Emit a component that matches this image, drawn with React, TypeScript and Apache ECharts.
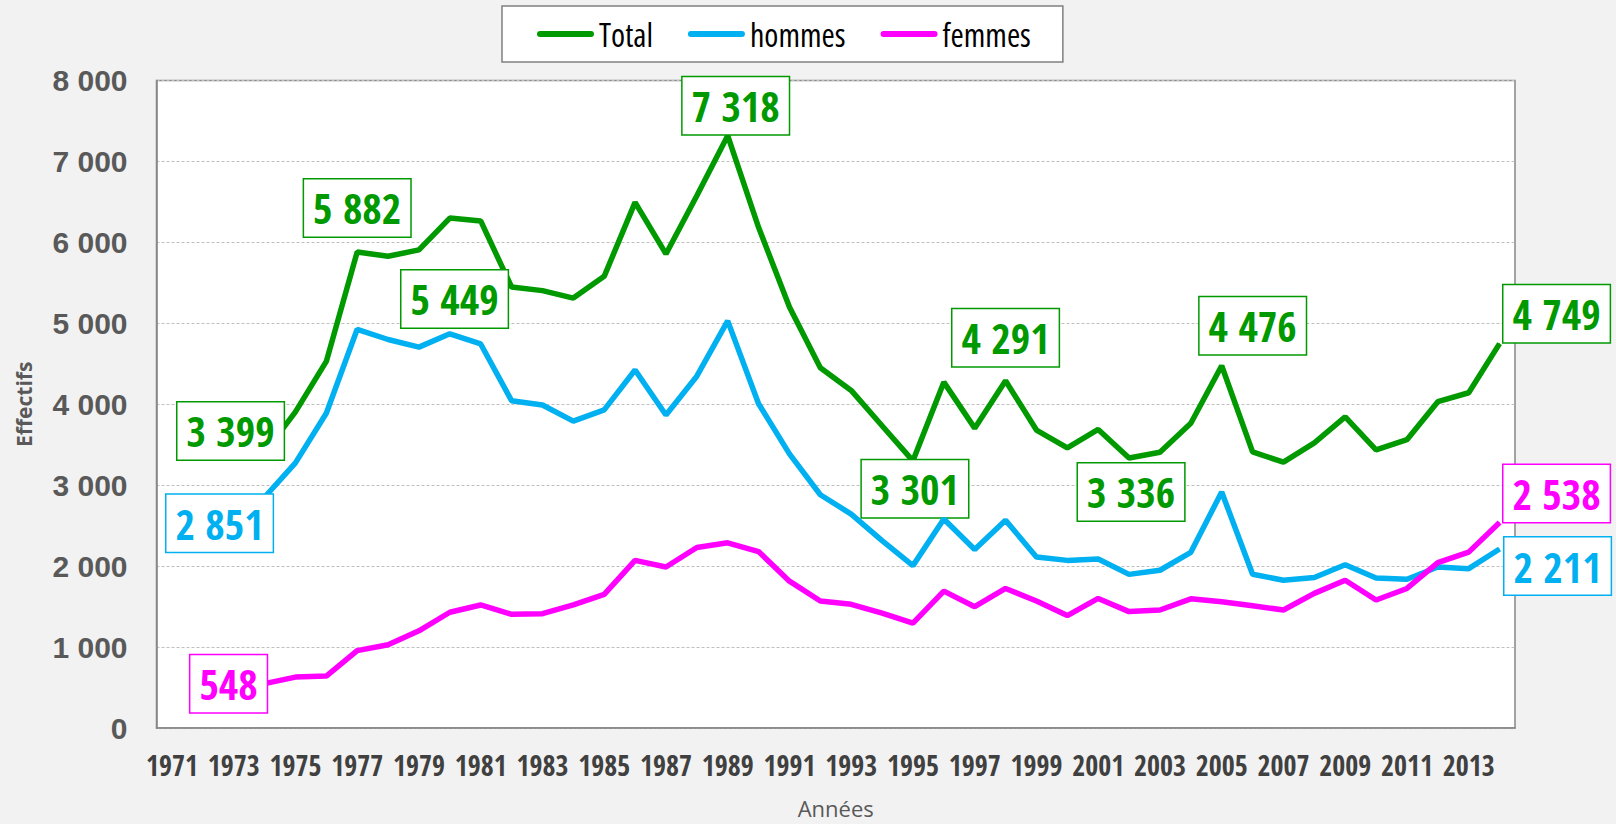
import React, { useEffect, useRef } from "react";
import * as echarts from "echarts";

const years = [
  "1971", "1972", "1973", "1974", "1975", "1976", "1977", "1978", "1979", "1980",
  "1981", "1982", "1983", "1984", "1985", "1986", "1987", "1988", "1989", "1990",
  "1991", "1992", "1993", "1994", "1995", "1996", "1997", "1998", "1999", "2000",
  "2001", "2002", "2003", "2004", "2005", "2006", "2007", "2008", "2009", "2010",
  "2011", "2012", "2013", "2014",
];

const total = [
  null, null, null, 3399, 3905, 4529, 5882, 5829, 5907, 6300,
  6265, 5449, 5404, 5312, 5580, 6494, 5857, 6577, 7318, 6186,
  5201, 4451, 4171, 3734, 3301, 4273, 3705, 4291, 3681, 3460,
  3689, 3336, 3407, 3766, 4476, 3411, 3284, 3523, 3844, 3435,
  3562, 4032, 4142, 4749,
];

const hommes = [
  null, null, null, 2851, 3276, 3888, 4926, 4800, 4706, 4870,
  4745, 4044, 3991, 3792, 3930, 4423, 3868, 4347, 5030, 4006,
  3387, 2882, 2643, 2316, 2006, 2582, 2206, 2567, 2112, 2071,
  2088, 1898, 1949, 2170, 2916, 1900, 1826, 1860, 2018, 1854,
  1838, 1989, 1969, 2211,
];

const femmes = [
  null, null, null, 548, 629, 641, 956, 1029, 1201, 1430,
  1520, 1405, 1413, 1520, 1650, 2071, 1989, 2230, 2288, 2180,
  1814, 1569, 1528, 1418, 1295, 1691, 1499, 1724, 1569, 1389,
  1601, 1438, 1458, 1596, 1560, 1511, 1458, 1663, 1826, 1581,
  1724, 2043, 2173, 2538,
];

const seriesNames = ["Total", "hommes", "femmes"];
const seriesValues = [total, hommes, femmes];
const seriesColors = ["#009900", "#00b0f0", "#ff00ff"];

// which points carry a boxed value label, and where the box sits (pixel offset from the point)
const labelOffsets: Record<string, Record<string, number[]>> = {
  Total: {
    "1974": [-34, -22],
    "1977": [0, -44],
    "1982": [-57, 12],
    "1989": [8, -30],
    "1995": [2, 28],
    "1998": [0, -43],
    "2002": [2, 34],
    "2005": [31, -40],
    "2014": [57, -30],
  },
  hommes: {
    "1974": [-45, 26],
    "2014": [58, 17],
  },
  femmes: {
    "1974": [-36, 0],
    "2014": [57, -29],
  },
};

const NARROW_BOLD = "'Liberation Sans Narrow', 'Open Sans Condensed', 'Liberation Sans', sans-serif";
const NARROW_REG = "'Open Sans'; font-stretch: 75%";
const ARIAL = "'Liberation Sans', Arial, sans-serif";
const OPEN = "'Open Sans', 'Noto Sans', sans-serif";

// text measurement that understands the condensed-width font declaration above
let measureCtx: CanvasRenderingContext2D | null = null;
echarts.setPlatformAPI({
  measureText(text: string, font?: string) {
    if (!measureCtx) measureCtx = document.createElement("canvas").getContext("2d");
    const ctx = measureCtx as any;
    let f = font || "12px sans-serif";
    let stretch = "normal";
    const k = f.indexOf(";");
    if (k >= 0) {
      if (/font-stretch/.test(f.slice(k))) stretch = "condensed";
      f = f.slice(0, k);
    }
    ctx.font = f;
    try {
      ctx.fontStretch = stretch;
    } catch (e) {
      /* ignore */
    }
    return ctx.measureText(text);
  },
} as any);

const fmt = (v: number) => String(v).replace(/\B(?=(\d{3})+(?!\d))/g, " ");

export default function App() {
  const ref = useRef<HTMLDivElement>(null);

  useEffect(() => {
    if (!ref.current) return;
    const chart = echarts.init(ref.current, undefined, { renderer: "svg" });

    const series = seriesNames.map((name, si) => {
      const color = seriesColors[si];
      const offs = labelOffsets[name];
      const data = seriesValues[si].map((v, i) => {
        if (v == null) return null;
        const off = offs[years[i]];
        if (!off) return v;
        return {
          value: v,
          label: {
            show: true,
            position: "inside",
            offset: off,
            formatter: (p: any) => fmt(p.value),
            fontFamily: NARROW_BOLD,
            fontWeight: "bold",
            fontSize: 42,
            lineHeight: 44,
            color,
            backgroundColor: "#ffffff",
            borderColor: color,
            borderWidth: 1.5,
            padding: [7, 9, 6, 9],
          },
        };
      });
      return {
        name,
        type: "line",
        data,
        symbol: "circle",
        symbolSize: 1,
        showSymbol: true,
        showAllSymbol: true,
        itemStyle: { color },
        lineStyle: { color, width: 5.5 },
        emphasis: { disabled: true },
        z: 2 + si,
      };
    });

    chart.setOption({
      animation: false,
      backgroundColor: "#f2f2f2",
      legend: {
        data: seriesNames,
        left: 502,
        top: 6,
        backgroundColor: "#ffffff",
        borderColor: "#808080",
        borderWidth: 1.5,
        padding: [11, 32, 11, 35],
        itemGap: 35,
        itemWidth: 57,
        itemHeight: 6,
        icon: "path://M3,0H54A3,3 0 0 1 54,6H3A3,3 0 0 1 3,0Z",
        selectedMode: false,
        textStyle: { fontFamily: NARROW_REG, fontWeight: "normal", fontSize: 32, color: "#000000", lineHeight: 34 },
      },
      grid: {
        left: 156.5,
        right: 101,
        top: 80.5,
        bottom: 90,
        show: true,
        backgroundColor: "#ffffff",
        borderColor: "#868686",
        borderWidth: 1.5,
      },
      xAxis: {
        type: "category",
        data: years,
        boundaryGap: true,
        axisLine: { show: true, lineStyle: { color: "#868686", width: 1.5 } },
        axisTick: { show: false },
        axisLabel: {
          interval: 1,
          fontFamily: NARROW_BOLD,
          fontWeight: "bold",
          fontSize: 28,
          color: "#404040",
          margin: 23,
        },
        name: "Années",
        nameLocation: "middle",
        nameGap: 69,
        nameTextStyle: { fontFamily: OPEN, fontSize: 22, color: "#595959" },
      },
      yAxis: {
        type: "value",
        min: 0,
        max: 8000,
        interval: 1000,
        axisLine: { show: true, lineStyle: { color: "#868686", width: 1.5 } },
        axisTick: { show: false },
        axisLabel: {
          formatter: (v: number) => fmt(v),
          fontFamily: ARIAL,
          fontWeight: "bold",
          fontSize: 30,
          color: "#595959",
          margin: 29,
        },
        splitLine: { show: true, lineStyle: { color: "#bfbfbf", type: [3, 2], width: 1 } },
        name: "Effectifs",
        nameLocation: "middle",
        nameRotate: 90,
        nameGap: 122,
        nameTextStyle: { fontFamily: OPEN, fontWeight: "bold", fontSize: 21, color: "#595959" },
      },
      series,
    });

    return () => chart.dispose();
  }, []);

  return (
    <div
      ref={ref}
      style={{ position: "fixed", left: 0, top: 0, width: 1616, height: 824, background: "#f2f2f2" }}
    />
  );
}
